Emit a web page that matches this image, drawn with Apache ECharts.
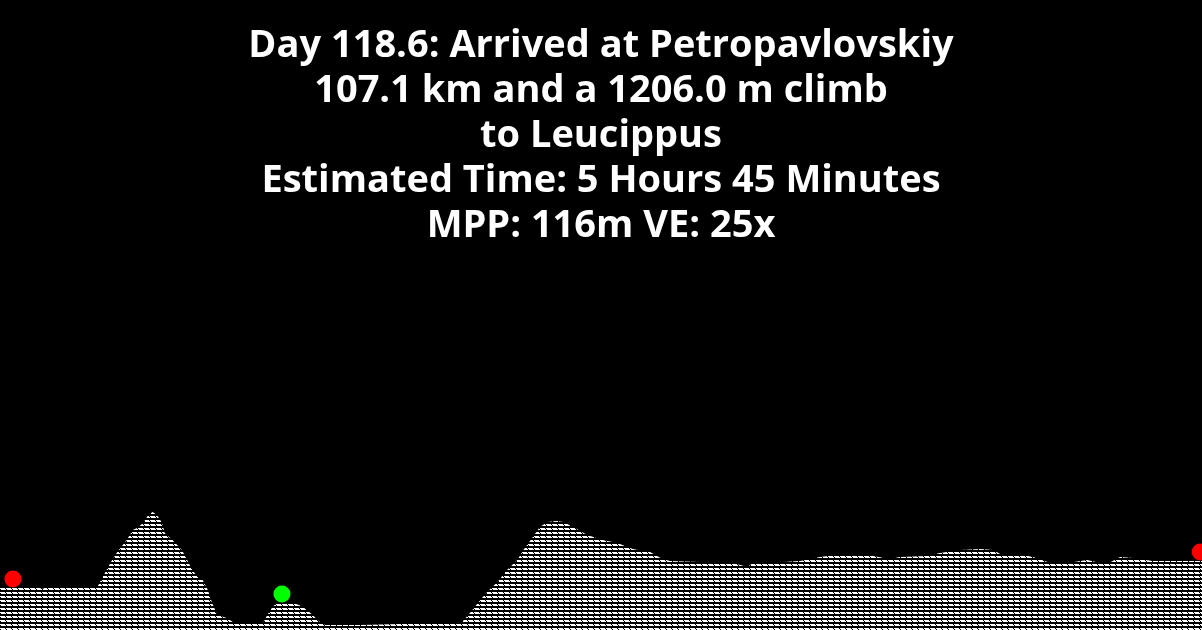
<!DOCTYPE html>
<html>
<head>
<meta charset="utf-8">
<script src="https://cdn.jsdelivr.net/npm/echarts@6/dist/echarts.min.js"></script>
<style>
  html, body { margin: 0; padding: 0; background: #000; }
  #profile { width: 1202px; height: 630px; }
</style>
</head>
<body>
<div id="profile"></div>
<script>
// route distance (km) and elevation (m)
var distKm = [0.0, 1.4, 4.6, 5.0, 5.3, 7.0, 11.3, 11.6, 12.8, 13.6, 14.7, 15.4, 15.9, 16.6, 17.2, 17.7,
    18.2, 18.8, 19.1, 20.0, 21.1, 21.7, 22.3, 22.9, 23.5, 24.1, 24.6, 25.2, 26.3, 27.0, 29.3, 30.5,
    31.0, 31.6, 32.1, 32.7, 34.0, 35.0, 36.0, 37.1, 37.7, 41.8, 46.4, 51.0, 53.6, 54.5, 55.7, 56.5,
    57.7, 58.8, 60.0, 60.7, 61.8, 62.6, 63.5, 64.6, 65.3, 66.5, 68.1, 69.9, 71.6, 73.4, 75.4, 76.6,
    77.7, 81.2, 85.0, 86.7, 87.3, 90.8, 92.8, 95.1, 97.8, 100.6, 103.2, 104.4, 107.5, 109.0, 111.4,
    113.7, 115.2, 116.0, 118.0, 119.8, 121.5, 123.8, 126.1, 127.6, 128.4, 129.9, 131.4, 133.7, 137.2, 139.4];
var elevM = [195, 195, 195, 190, 204, 200, 200, 223, 311, 362, 418, 464, 473, 496, 534, 548,
    534, 496, 450, 418, 371, 325, 278, 246, 232, 186, 125, 70, 56, 37, 32, 32,
    70, 107, 125, 125, 125, 111, 79, 37, 23, 23, 28, 28, 37, 79, 139, 176,
    223, 278, 325, 371, 432, 478, 501, 506, 501, 478, 441, 418, 404, 376, 362, 334,
    320, 316, 311, 292, 311, 316, 320, 339, 353, 348, 329, 339, 343, 357, 371,
    376, 371, 353, 353, 339, 316, 311, 325, 311, 306, 339, 334, 320, 320, 320];

// markers: start / end in red, current position in green
var endPoints = [[1.5, 195], [139.2, 320]];
var currentPoint = [[32.7, 125]];

var titleLines = [
    'Day 118.6: Arrived at Petropavlovskiy',
    '107.1 km and a 1206.0 m climb',
    'to Leucippus',
    'Estimated Time: 5 Hours 45 Minutes',
    'MPP: 116m VE: 25x'
];

// hatch tile for the terrain fill
var hatch = document.createElement('canvas');
hatch.width = 6;
hatch.height = 4;
var hctx = hatch.getContext('2d');
hctx.fillStyle = '#000';
hctx.fillRect(0, 0, 6, 4);
hctx.fillStyle = '#fff';
hctx.fillRect(0, 0, 5, 1);
hctx.fillRect(1, 1, 5, 1);

var profileData = [];
for (var i = 0; i < distKm.length; i++) {
    profileData.push([distKm[i], elevM[i]]);
}

var chart = echarts.init(document.getElementById('profile'));
chart.setOption({
    backgroundColor: '#000',
    animation: false,
    title: {
        text: titleLines.join('\n'),
        left: 'center',
        top: 19,
        textStyle: {
            color: '#fff',
            fontFamily: 'Open Sans',
            fontWeight: 'bold',
            fontSize: 38,
            lineHeight: 45
        }
    },
    grid: { left: 0, right: 0, top: 0, bottom: 0 },
    xAxis: { type: 'value', min: 0, max: 139.4, show: false },
    yAxis: { type: 'value', min: 0, max: 2923, show: false },
    series: [
        {
            type: 'line',
            data: profileData,
            showSymbol: false,
            lineStyle: { width: 0 },
            areaStyle: { color: { image: hatch, repeat: 'repeat' }, opacity: 1 }
        },
        {
            type: 'scatter',
            data: endPoints,
            symbolSize: 17,
            symbolOffset: [0, -9],
            itemStyle: { color: '#ff0000', opacity: 1 }
        },
        {
            type: 'scatter',
            data: currentPoint,
            symbolSize: 17,
            symbolOffset: [0, -9],
            itemStyle: { color: '#00ff00', opacity: 1 }
        }
    ]
});
</script>
</body>
</html>
